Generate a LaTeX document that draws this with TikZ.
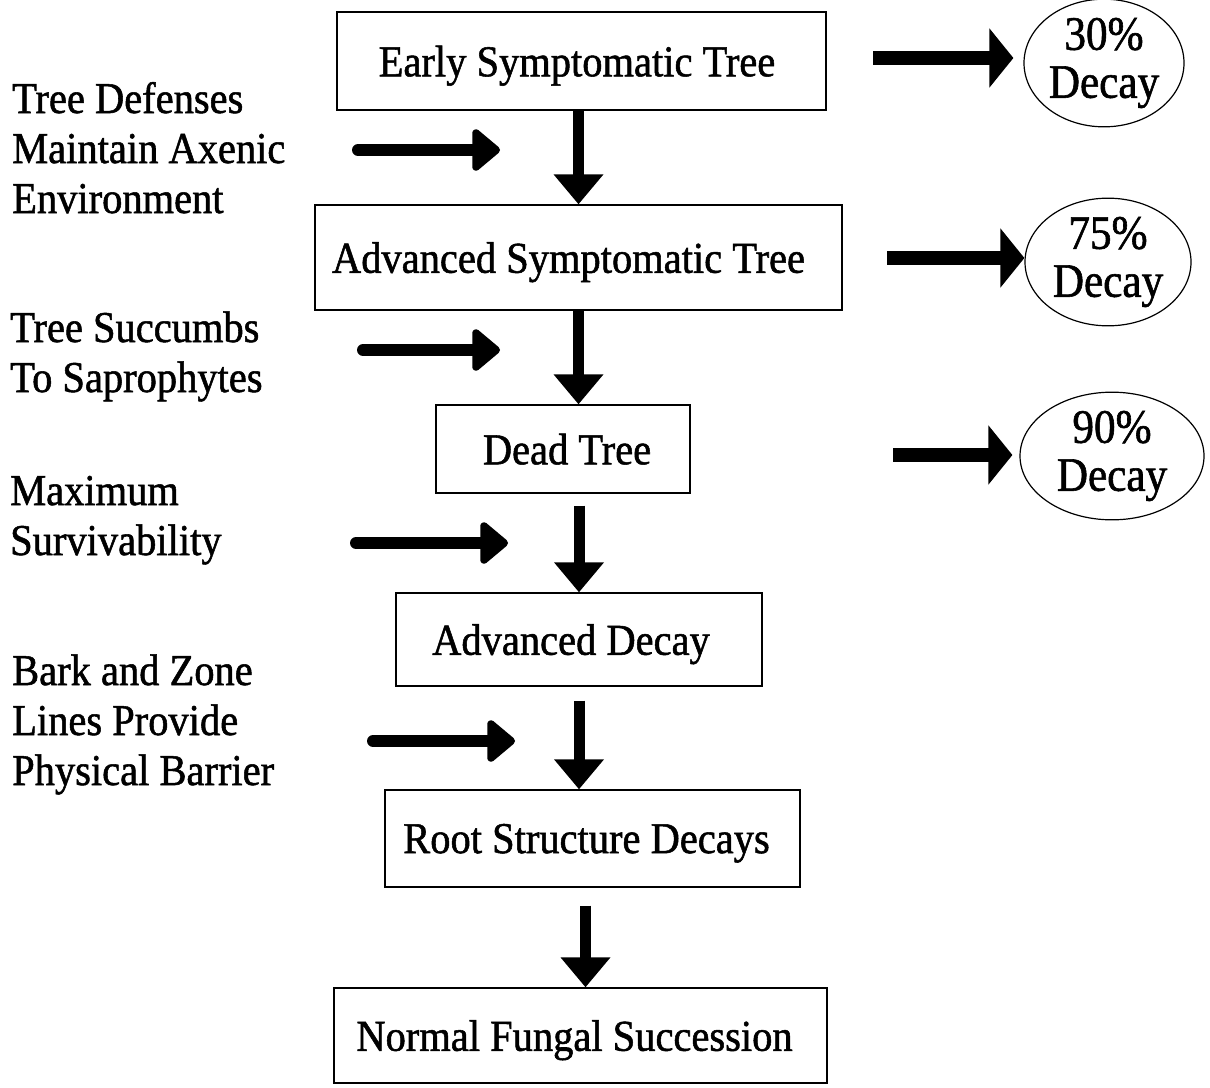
\documentclass[tikz,border=0pt]{standalone}
\usepackage{fontspec}
\setmainfont[FakeStretch=0.92,FakeBold=1.2]{Liberation Serif}
\newfontfamily\ellfont[FakeStretch=0.9,FakeBold=1.2]{Liberation Serif}
\usetikzlibrary{arrows.meta,shapes.geometric,calc}
\begin{document}
\begin{tikzpicture}[x=1pt,y=-1pt,
  box/.style={draw, line width=1.3pt, inner sep=0pt, text depth=0pt, font=\fontsize{44}{50}\selectfont},
  lbl/.style={anchor=base west, align=left, inner sep=0pt, font=\fontsize{44}{50}\selectfont},
  ell/.style={draw, ellipse, line width=1.2pt, inner sep=0pt, align=center, font=\ellfont\fontsize{48}{48}\selectfont},
  down/.style={line width=11pt, -{Triangle[width=48pt,length=30pt]}},
  side/.style={line width=12pt, line cap=round, -{Triangle[width=48pt,length=30pt,round]}},
  rt/.style={line width=14pt, -{Triangle[width=58pt,length=24pt]}},
]
\useasboundingbox (0,0) rectangle (1210,1087);
\fill[white] (0,0) rectangle (1210,1087);

% boxes
\node[box, minimum width=489pt, minimum height=98pt] (b1) at (581.5,61) {Early Symptomatic Tree\hspace*{9pt}};
\node[box, minimum width=527pt, minimum height=105pt] (b2) at (578.5,257.5) {Advanced Symptomatic Tree\hspace*{20pt}};
\node[box, minimum width=254pt, minimum height=88pt] (b3) at (563,449) {\hspace*{8pt}Dead Tree};
\node[box, minimum width=366pt, minimum height=93pt] (b4) at (579,639.5) {Advanced Decay\hspace*{16pt}};
\node[box, minimum width=415pt, minimum height=97pt] (b5) at (592.5,838.5) {Root Structure Decays\hspace*{12pt}};
\node[box, minimum width=493pt, minimum height=95pt] (b6) at (580.5,1035.5) {Normal Fungal Succession\hspace*{12pt}};

% down arrows
\draw[down] (b2.north |- b1.south) -- (b2.north);
\draw[down] (b2.south) -- (b2.south |- b3.north);
\draw[down, shorten <=12pt] (b4.north |- b3.south) -- (b4.north);
\draw[down, shorten <=14pt] (b4.south) -- (b4.south |- b5.north);
\draw[down, shorten <=18pt] ([xshift=-7pt]b5.south) -- ([xshift=-7pt]b5.south |- b6.north);

% left labels (base anchor = last line)
\node[lbl] (t1) at (12,213) {Tree Defenses\\Maintain Axenic\\Environment};
\node[lbl] (t2) at (10,392) {Tree Succumbs\\To Saprophytes};
\node[lbl] (t3) at (10,555) {Maximum\\Survivability};
\node[lbl] (t4) at (12,785) {Bark and Zone\\Lines Provide\\Physical Barrier};

% left arrows
\coordinate (l1a) at (358,150); \coordinate (l1b) at (500,150);
\coordinate (l2a) at (363,350); \coordinate (l2b) at (500,350);
\coordinate (l3a) at (356,543); \coordinate (l3b) at (508,543);
\coordinate (l4a) at (373,741); \coordinate (l4b) at (515,741);
\draw[side] (l1a) -- (l1b);
\draw[side] (l2a) -- (l2b);
\draw[side] (l3a) -- (l3b);
\draw[side] (l4a) -- (l4b);

% ellipses
\node[ell, minimum width=160pt, minimum height=116pt] (e1) at (1104,63) {30\%\\Decay};
\node[ell, minimum width=166pt, minimum height=116pt] (e2) at (1108,262) {75\%\\Decay};
\node[ell, minimum width=184pt, minimum height=108pt] (e3) at (1112,456) {90\%\\Decay};

% right arrows
\coordinate (r1) at (873,58);
\coordinate (r2) at (887,258);
\coordinate (r3) at (893,455);
\draw[rt, shorten >=10pt] (r1) -- (r1 -| e1.west);
\draw[rt] (r2) -- (r2 -| e2.west);
\draw[rt, shorten >=7pt] (r3) -- (r3 -| e3.west);
\end{tikzpicture}
\end{document}
